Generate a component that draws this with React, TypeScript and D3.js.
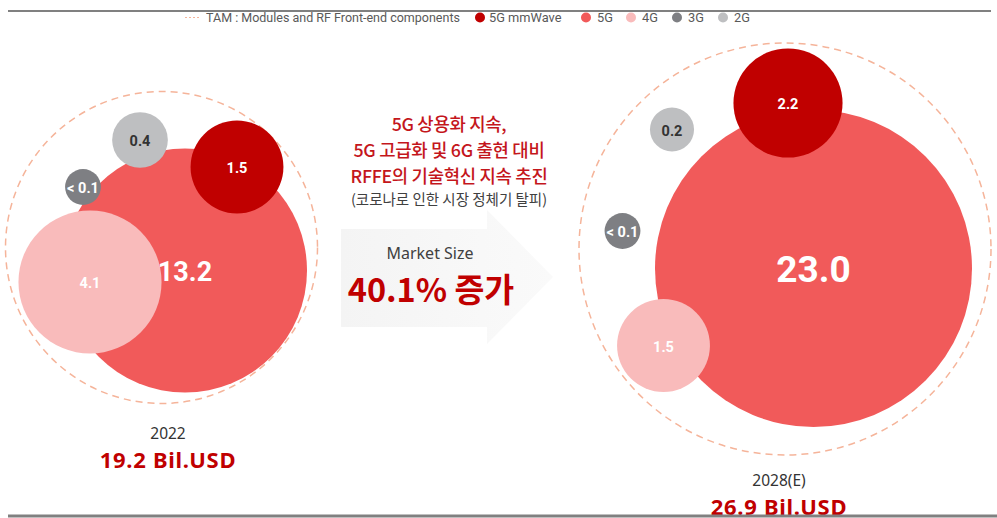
import React from 'react';
import * as d3 from 'd3';

// ---------- DATA ----------
const series = ['5G mmWave', '5G', '4G', '3G', '2G'];
const seriesColors = ['#C00000', '#F15A5A', '#F9BBBB', '#7E7F83', '#BEBFC1'];
const years = ['2022', '2028(E)'];
const values2022 = [1.5, 13.2, 4.1, 0.1, 0.4];
const values2028 = [2.2, 23.0, 1.5, 0.1, 0.2];
const labels2022 = ['1.5', '13.2', '4.1', '< 0.1', '0.4'];
const labels2028 = ['2.2', '23.0', '1.5', '< 0.1', '0.2'];
const totals = ['19.2 Bil.USD', '26.9 Bil.USD'];
const tamLabel = 'TAM : Modules and RF Front-end components';
const headline = ['5G 상용화 지속,', '5G 고급화 및 6G 출현 대비', 'RFFE의 기술혁신 지속 추진'];
const subline = '(코로나로 인한 시장 정체기 탈피)';
const growthCaption = 'Market Size';
const growthText = '40.1% 증가';

// ---------- LAYOUT ----------
const W = 997;
const H = 518;
const rScale = d3.scaleSqrt().domain([0, 23]).range([8, 158.5]);

const groups = [
  {
    values: values2022,
    labels: labels2022,
    tam: { cx: 161.5, cy: 247.5, r: 156 },
    pos: [[237, 167], [185, 270.5], [90, 282], [83, 187], [140, 140]],
    textX: 168, yearY: 433.5, totalY: 460,
  },
  {
    values: values2028,
    labels: labels2028,
    tam: { cx: 785, cy: 249, r: 206 },
    pos: [[788, 103], [813.5, 268.5], [663.5, 345.5], [622.5, 231], [672, 129.5]],
    textX: 779, yearY: 481, totalY: 507.5,
  },
];
const drawOrder = [1, 2, 0, 3, 4];
const red = '#C00000';
const peach = '#F5B49A';

function labelSize(v: number) {
  if (v >= 20) return 37;
  if (v >= 10) return 27;
  return 14.5;
}

export default function App() {
  const legendItems = [
    { x: 480, tx: 489 },
    { x: 586, tx: 597 },
    { x: 631, tx: 642 },
    { x: 677, tx: 688 },
    { x: 723, tx: 734 },
  ];
  return (
    <svg
      width={W}
      height={H}
      viewBox={`0 0 ${W} ${H}`}
      style={{ position: 'absolute', left: 0, top: 0, background: '#fff' }}
    >
      <defs>
        <linearGradient id="arrowGrad" x1="0" x2="1" y1="0" y2="0">
          <stop offset="0" stopColor="#f4f4f4" />
          <stop offset="1" stopColor="#fafafa" />
        </linearGradient>
      </defs>
      <rect x={0} y={0} width={W} height={H} fill="#fff" />
      {/* top rule */}
      <line x1={8} x2={991} y1={11} y2={11} stroke="#808080" strokeWidth={2} />

      {/* legend */}
      <line x1={185} x2={199} y1={17.5} y2={17.5} stroke={peach} strokeWidth={1.2} strokeDasharray="2,2" />
      <text x={206} y={17.5} dy="0.35em" fontFamily="Roboto, 'Noto Sans'" fontSize={12.5} fill="#595959">
        {tamLabel}
      </text>
      {series.map((s, i) => (
        <g key={s}>
          <circle cx={legendItems[i].x} cy={17.5} r={5} fill={seriesColors[i]} />
          <text x={legendItems[i].tx} y={17.5} dy="0.35em" fontFamily="Roboto, 'Noto Sans'" fontSize={12.8} fill="#595959">
            {s}
          </text>
        </g>
      ))}

      {/* arrow */}
      <polygon
        points="341,229 487,229 487,210 553,277 487,344 487,327 341,327"
        fill="url(#arrowGrad)"
      />

      {/* bubble groups */}
      {groups.map((g, gi) => (
        <g key={years[gi]}>
          <circle
            cx={g.tam.cx}
            cy={g.tam.cy}
            r={g.tam.r}
            fill="none"
            stroke={peach}
            strokeWidth={1.5}
            strokeDasharray="7,5"
          />
          {drawOrder.map((i) => (
            <circle
              key={series[i]}
              cx={g.pos[i][0]}
              cy={g.pos[i][1]}
              r={rScale(g.values[i])}
              fill={seriesColors[i]}
            />
          ))}
          {drawOrder.map((i) => (
            <text
              key={series[i] + 't'}
              x={g.pos[i][0]}
              y={g.pos[i][1] + 1}
              dy="0.35em"
              textAnchor="middle"
              fontFamily="Roboto, 'Noto Sans'"
              fontWeight={700}
              fontSize={labelSize(g.values[i])}
              fill={i === 4 ? '#333333' : '#ffffff'}
            >
              {g.labels[i]}
            </text>
          ))}
          <text
            x={g.textX}
            y={g.yearY}
            dy="0.35em"
            textAnchor="middle"
            fontFamily="'Noto Sans'"
            fontSize={15.5}
            fill="#333333"
          >
            {years[gi]}
          </text>
          <text
            x={g.textX}
            y={g.totalY}
            dy="0.35em"
            textAnchor="middle"
            fontFamily="'Noto Sans'"
            fontWeight={700}
            fontSize={22}
            letterSpacing={0.7}
            fill={red}
          >
            {totals[gi]}
          </text>
        </g>
      ))}

      {/* center text */}
      {headline.map((t, i) => (
        <text
          key={t}
          x={449}
          y={125 + i * 26}
          dy="0.36em"
          textAnchor="middle"
          fontFamily="'Noto Sans CJK KR'"
          fontWeight={500}
          fontSize={17.8}
          letterSpacing={-0.3}
          fill="#C4161C"
        >
          {t}
        </text>
      ))}
      <text
        x={449}
        y={200}
        dy="0.36em"
        textAnchor="middle"
        fontFamily="'Noto Sans CJK KR'"
        fontSize={14.5}
        fill="#404040"
      >
        {subline}
      </text>
      <text
        x={430}
        y={253.5}
        dy="0.35em"
        textAnchor="middle"
        fontFamily="'Noto Sans'"
        fontSize={16}
        fill="#404040"
      >
        {growthCaption}
      </text>
      <text
        x={431}
        y={290}
        dy="0.36em"
        textAnchor="middle"
        fontFamily="'Noto Sans CJK KR'"
        fontWeight={700}
        fontSize={32.5}
        fill={red}
      >
        {growthText}
      </text>

      {/* bottom rule */}
      <line x1={8} x2={997} y1={516} y2={516} stroke="#808080" strokeWidth={3} />
    </svg>
  );
}
